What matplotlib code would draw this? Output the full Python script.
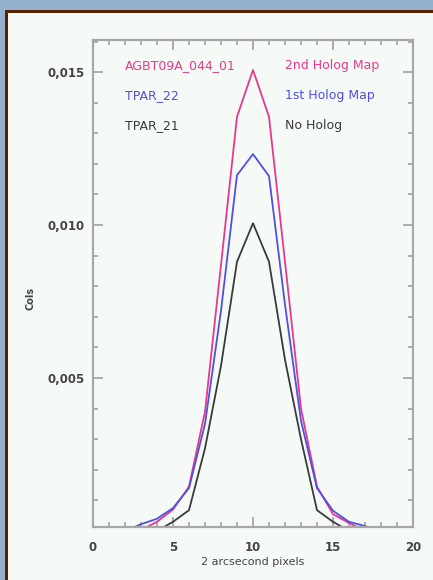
import numpy as np
import matplotlib
matplotlib.use('Agg')
import matplotlib.pyplot as plt
from matplotlib.patches import Rectangle
from matplotlib.ticker import MultipleLocator, FuncFormatter

# pixel positions along the cut (2 arcsec pixels)
pix = [2, 3, 4, 5, 6, 7, 8, 9, 10, 11, 12, 13, 14, 15, 16, 17, 18]

holog2 = [0, 0.00003, 0.0003, 0.0007, 0.00145, 0.0039, 0.0087, 0.01354, 0.01507,
          0.01354, 0.0088, 0.0040, 0.00145, 0.00055, 0.00026, 0, 0]
holog1 = [0, 0.00022, 0.0004, 0.00075, 0.0014, 0.0035, 0.0072, 0.01163, 0.01232,
          0.0116, 0.0074, 0.0036, 0.0014, 0.00066, 0.0003, 0.00016, 0]
noholog = [0, 0, 0, 0.0003, 0.00068, 0.0027, 0.0054, 0.0088, 0.01006,
           0.0088, 0.0056, 0.0030, 0.00068, 0.0003, 0, 0, 0]

labels_left = ['AGBT09A_044_01', 'TPAR_22', 'TPAR_21']
labels_right = ['2nd Holog Map', '1st Holog Map', 'No Holog']
colors = ['#e8388c', '#5050e0', '#3a3a3a']

W, H = 433, 580
fig = plt.figure(figsize=(W / 100, H / 100), dpi=100)
fig.patch.set_facecolor('#93b1cc')

# brown frame and pale panel
fig.add_artist(Rectangle((5 / W, -0.1), 1.2, 1 - 10 / H + 0.1, transform=fig.transFigure,
                         facecolor='#5a2200', edgecolor='none', zorder=0))
fig.add_artist(Rectangle((8 / W, -0.1), 1.2, 1 - 13 / H + 0.1, transform=fig.transFigure,
                         facecolor='#f5faf7', edgecolor='none', zorder=0))

ax = fig.add_axes([93 / W, 53 / H, 320 / W, 487 / H])
ax.set_facecolor('none')

for ys, c in zip([holog2, holog1, noholog], colors):
    ax.plot(pix, ys, color=c, lw=1.3)

ax.set_xlim(0, 20)
ax.set_ylim(0.00013, 0.01605)

ax.xaxis.set_major_locator(MultipleLocator(5))
ax.xaxis.set_minor_locator(MultipleLocator(1))
ax.set_yticks([0.005, 0.010, 0.015])
ax.yaxis.set_minor_locator(MultipleLocator(0.001))
ax.yaxis.set_major_formatter(FuncFormatter(lambda v, p: '{:.3f}'.format(v).replace('.', ',')))

grey = '#a8a8a8'
for s in ax.spines.values():
    s.set_color(grey)
    s.set_linewidth(1.6)
ax.tick_params(which='both', direction='in', top=True, right=True, color=grey, width=1.3)
ax.tick_params(which='major', length=7.5, labelsize=8.5, labelcolor='#444444', pad=6)
ax.tick_params(axis='x', which='major', pad=10)
ax.tick_params(which='minor', length=3.6)
for t in ax.get_xticklabels() + ax.get_yticklabels():
    t.set_fontweight('bold')

ax.set_xlabel('2 arcsecond pixels', fontsize=8, color='#444444')
ax.xaxis.set_label_coords(0.5, -0.062)
ax.set_ylabel('Cols', fontsize=7, color='#444444', fontweight='bold')
ax.yaxis.set_label_coords(-0.18, 0.47)

for i in range(3):
    y = 0.947 - i * 0.061
    ax.text(0.1, y, labels_left[i], transform=ax.transAxes, color=colors[i],
            fontsize=9, va='center', ha='left')
    ax.text(0.6, y, labels_right[i], transform=ax.transAxes, color=colors[i],
            fontsize=9, va='center', ha='left')

fig.savefig('out.png', dpi=100, facecolor=fig.get_facecolor())
